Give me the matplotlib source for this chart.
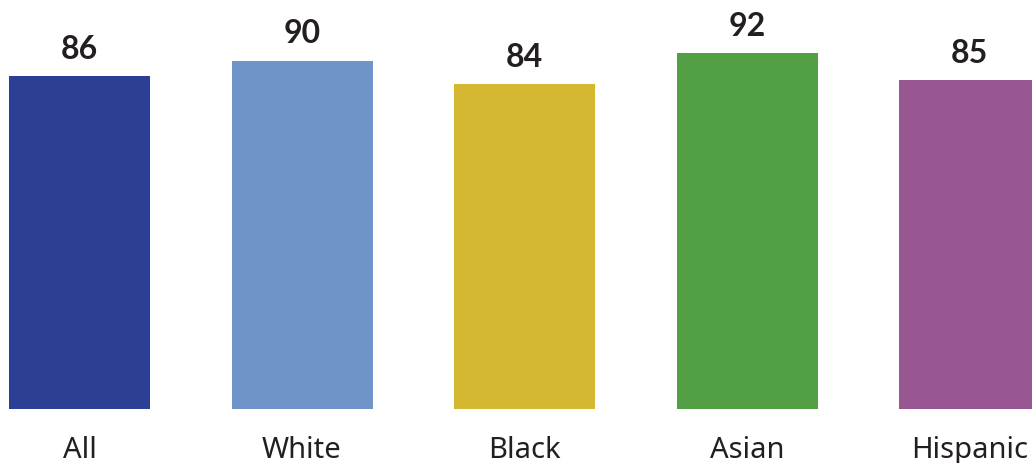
import matplotlib
matplotlib.use("Agg")
import matplotlib.pyplot as plt

categories = ["All", "White", "Black", "Asian", "Hispanic"]
values = [86, 90, 84, 92, 85]
colors = ["#2B3F94", "#6F94C8", "#D4B831", "#539F46", "#985693"]

plt.rcParams["font.family"] = ["Noto Sans", "DejaVu Sans"]

fig = plt.figure(figsize=(10.32, 4.63), dpi=100)
# axes spans the full width, bottom sits at the bar baseline
ax = fig.add_axes([0, 54 / 463, 1, 409 / 463])

x = list(range(len(categories)))
ax.bar(x, values, width=141 / 222.5, color=colors)
ax.set_xlim(-79.5 / 222.5, (1032 - 79.5) / 222.5)
ax.set_ylim(0, 409 / 3.87)
ax.axis("off")

for i, v in enumerate(values):
    ax.annotate(str(v), (i, v), xytext=(0, 12.5), textcoords="offset points",
                ha="center", va="baseline", fontsize=23, fontweight="bold",
                family=["Lato", "DejaVu Sans"], color="#231f20")
    ax.annotate(categories[i], (i, 0), xytext=(0, -35), textcoords="offset points",
                ha="center", va="baseline", fontsize=21, color="#231f20",
                annotation_clip=False)

fig.savefig("out.png", dpi=100)
